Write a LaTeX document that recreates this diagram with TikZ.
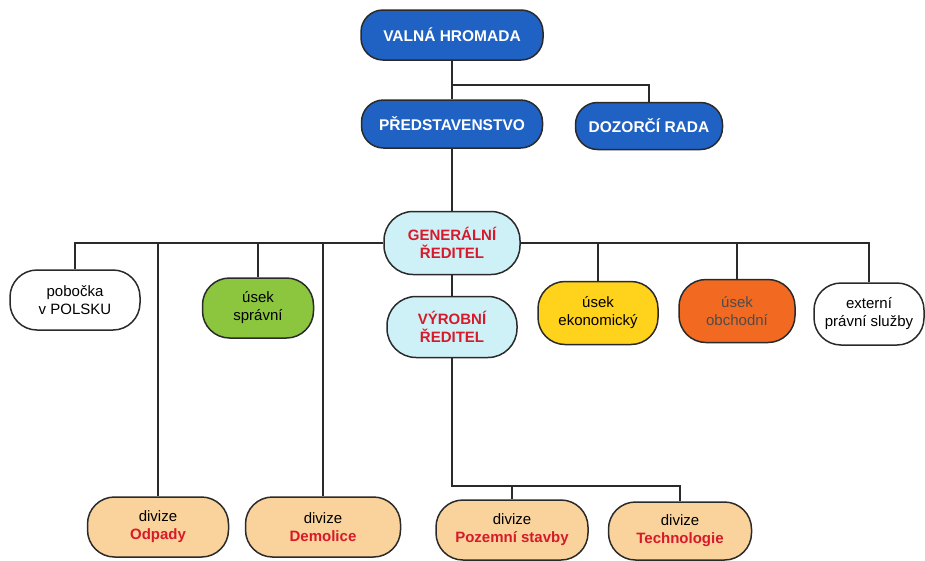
\documentclass[tikz,border=0pt]{standalone}
\usepackage{fontspec}
\setmainfont{Liberation Sans}
\definecolor{boxblue}{HTML}{1F62C4}
\definecolor{boxcyan}{HTML}{CDF1F6}
\definecolor{boxgreen}{HTML}{8CC63F}
\definecolor{boxyellow}{HTML}{FFD21C}
\definecolor{boxorange}{HTML}{F26A21}
\definecolor{boxtan}{HTML}{F9D39B}
\definecolor{txtred}{HTML}{D61A2B}
\definecolor{edge}{HTML}{2A2A2A}
\tikzset{
  org/.style={draw=edge, line width=1.5pt, rounded corners=27pt, align=center, inner sep=2pt,
    font=\fontsize{15}{18}\selectfont, text=black},
  bluebox/.style={org, fill=boxblue, text=white, font=\fontsize{15.5}{18}\selectfont\bfseries, rounded corners=22pt},
  cyanbox/.style={org, fill=boxcyan, text=txtred, font=\fontsize{15}{18}\selectfont\bfseries, rounded corners=29pt},
  whitebox/.style={org, fill=white},
  greenbox/.style={org, fill=boxgreen},
  yellowbox/.style={org, fill=boxyellow},
  orangebox/.style={org, fill=boxorange, text=black!70},
  tanbox/.style={org, fill=boxtan},
  conn/.style={draw=edge, line width=1.2pt},
}
\newcommand{\divred}[1]{{\color{txtred}\bfseries #1}}
\begin{document}
\begin{tikzpicture}[x=1pt,y=-1pt]
\useasboundingbox (0,0) rectangle (925,560);
% nodes
\node[bluebox, minimum width=182, minimum height=50] (vh) at (452,35) {VALNÁ HROMADA};
\node[bluebox, minimum width=181, minimum height=48] (pr) at (452,124) {PŘEDSTAVENSTVO};
\node[bluebox, minimum width=147, minimum height=47] (dr) at (649,126) {DOZORČÍ RADA};
\node[cyanbox, minimum width=136, minimum height=63] (gr) at (452,243) {GENERÁLNÍ\\ŘEDITEL};
\node[cyanbox, minimum width=130, minimum height=61] (vr) at (452,327) {VÝROBNÍ\\ŘEDITEL};
\node[whitebox, minimum width=130, minimum height=60] (pob) at (75,300) {pobočka\\v POLSKU};
\node[greenbox, minimum width=111, minimum height=60] (spr) at (258,308) {úsek\\správní};
\node[yellowbox, minimum width=120, minimum height=63] (eko) at (598,313) {úsek\\ekonomický};
\node[orangebox, minimum width=116, minimum height=63] (obc) at (737,311) {úsek\\obchodní};
\node[whitebox, minimum width=110, minimum height=62] (ext) at (869,314) {externí\\právní služby};
\node[tanbox, minimum width=141, minimum height=60] (odp) at (158,527) {divize\\\divred{Odpady}};
\node[tanbox, minimum width=155, minimum height=60] (dem) at (323,527) {divize\\\divred{Demolice}};
\node[tanbox, minimum width=152, minimum height=60] (poz) at (512,530) {divize\\\divred{Pozemní stavby}};
\node[tanbox, minimum width=143, minimum height=58] (tec) at (680,531) {divize\\\divred{Technologie}};
% junctions
\coordinate (j1) at (452,85);
\coordinate (bh) at (452,486);
% connectors
\draw[conn] (vh.south) -- (pr.north);
\draw[conn] (j1) -| (dr.north);
\draw[conn] (pr.south) -- (gr.north);
\draw[conn] (gr.south) -- (vr.north);
\draw[conn] (pob.north) |- (gr.west);
\draw[conn] (odp.north) -- (odp.north |- gr.west);
\draw[conn] (spr.north) -- (spr.north |- gr.west);
\draw[conn] (dem.north) -- (dem.north |- gr.west);
\draw[conn] (ext.north) |- (gr.east);
\draw[conn] (eko.north) -- (eko.north |- gr.east);
\draw[conn] (obc.north) -- (obc.north |- gr.east);
\draw[conn] (vr.south) -- (bh) -| (tec.north);
\draw[conn] (poz.north) -- (poz.north |- bh);
\end{tikzpicture}
\end{document}
